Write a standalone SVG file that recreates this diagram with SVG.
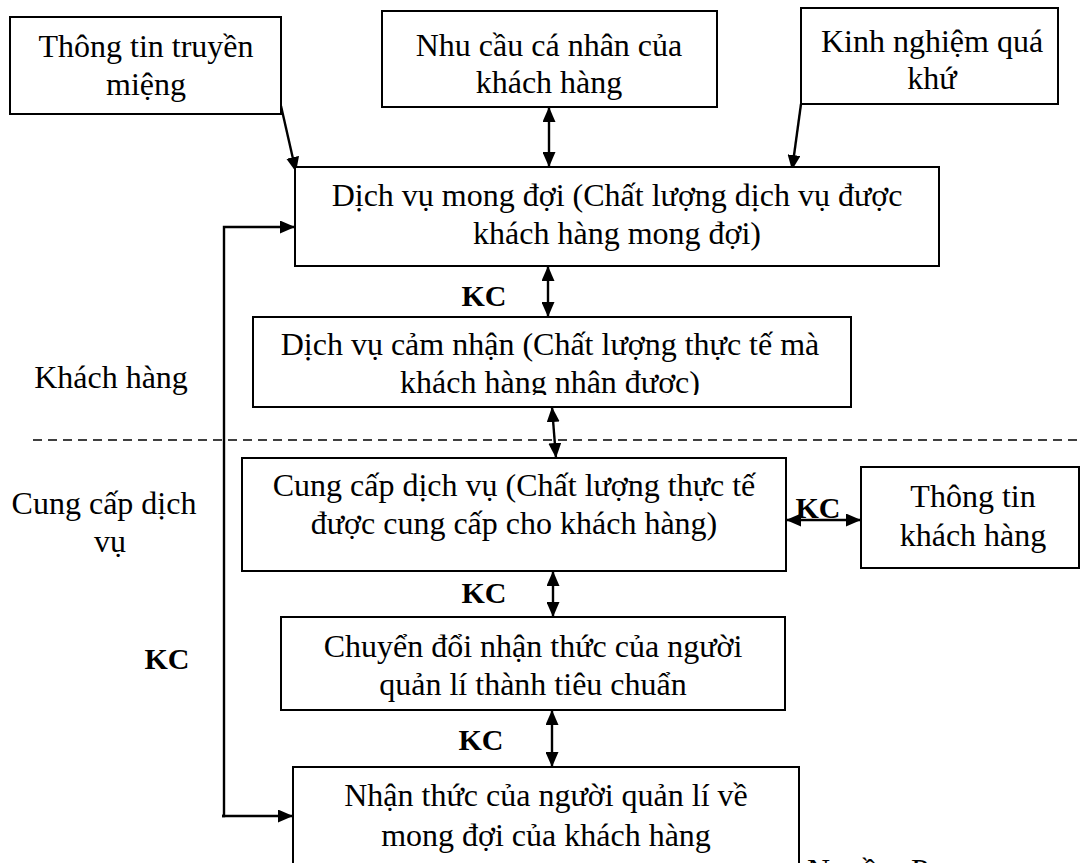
<svg xmlns="http://www.w3.org/2000/svg" width="1082" height="863" viewBox="0 0 1082 863">
  <style>
    .box { fill: #fff; stroke: #000; stroke-width: 2; }
    .t { font-family: "Liberation Serif", "Times New Roman", serif; font-size: 32px; text-anchor: middle; fill: #000; }
    .kc { font-family: "Liberation Serif", "Times New Roman", serif; font-size: 30px; font-weight: bold; text-anchor: middle; fill: #000; }
    .conn { stroke: #000; stroke-width: 2.4; fill: none; }
    .dash { stroke: #000; stroke-width: 1.5; stroke-dasharray: 9 6; fill: none; }
  </style>
  <defs>
    <marker id="head" viewBox="0 0 15 13" refX="15" refY="6.5" markerWidth="15" markerHeight="13" markerUnits="userSpaceOnUse" orient="auto-start-reverse">
      <path d="M0,0 L15,6.5 L0,13 z" fill="#000"/>
    </marker>
    <clipPath id="clipPerceived">
      <rect x="253" y="317" width="598" height="78"/>
    </clipPath>
  </defs>
  <rect width="1082" height="863" fill="#fff"/>

  <!-- boundary between customer side and provider side -->
  <line class="dash" x1="33" y1="440" x2="1082" y2="440"/>

  <!-- side labels -->
  <g id="label-customer">
    <text class="t" x="111" y="388">Khách hàng</text>
  </g>
  <g id="label-provider">
    <text class="t" x="104" y="514">Cung cấp dịch</text>
    <text class="t" x="110" y="552">vụ</text>
  </g>

  <!-- connectors -->
  <g id="connectors">
    <line class="conn" x1="281" y1="106" x2="296" y2="172" marker-end="url(#head)"/>
    <line class="conn" x1="801" y1="104" x2="792" y2="170" marker-end="url(#head)"/>
    <line class="conn" x1="549" y1="107" x2="549" y2="167" marker-start="url(#head)" marker-end="url(#head)"/>
    <line class="conn" x1="548" y1="266" x2="548" y2="317" marker-start="url(#head)" marker-end="url(#head)"/>
    <line class="conn" x1="552" y1="407" x2="556" y2="458" marker-start="url(#head)" marker-end="url(#head)"/>
    <line class="conn" x1="786" y1="520" x2="861" y2="520" marker-start="url(#head)" marker-end="url(#head)"/>
    <line class="conn" x1="553" y1="571" x2="553" y2="617" marker-start="url(#head)" marker-end="url(#head)"/>
    <line class="conn" x1="552" y1="710" x2="552" y2="767" marker-start="url(#head)" marker-end="url(#head)"/>
    <!-- feedback loop on the left -->
    <polyline class="conn" points="222,816 224,816 224,227 295,227" marker-end="url(#head)"/>
    <line class="conn" x1="222" y1="816" x2="293" y2="816" marker-end="url(#head)"/>
    <text class="kc" x="484" y="306">KC</text>
    <text class="kc" x="818" y="518">KC</text>
    <text class="kc" x="484" y="603">KC</text>
    <text class="kc" x="481" y="750">KC</text>
    <text class="kc" x="167" y="669">KC</text>
  </g>

  <g id="word-of-mouth">
    <rect class="box" x="10" y="17" width="271" height="97"/>
    <text class="t" x="146" y="57">Thông tin truyền</text>
    <text class="t" x="146" y="95">miệng</text>
  </g>

  <g id="personal-needs">
    <rect class="box" x="382" y="11" width="335" height="96"/>
    <text class="t" x="549" y="56">Nhu cầu cá nhân của</text>
    <text class="t" x="549" y="93">khách hàng</text>
  </g>

  <g id="past-experience">
    <rect class="box" x="801" y="8" width="257" height="96"/>
    <text class="t" x="932" y="52">Kinh nghiệm quá</text>
    <text class="t" x="932" y="89">khứ</text>
  </g>

  <g id="expected-service">
    <rect class="box" x="295" y="167" width="644" height="99"/>
    <text class="t" x="617" y="206">Dịch vụ mong đợi (Chất lượng dịch vụ được</text>
    <text class="t" x="617" y="244">khách hàng mong đợi)</text>
  </g>

  <g id="perceived-service">
    <rect class="box" x="253" y="317" width="598" height="90"/>
    <g clip-path="url(#clipPerceived)">
      <text class="t" x="550" y="355">Dịch vụ cảm nhận (Chất lượng thực tế mà</text>
      <text class="t" x="550" y="393">khách hàng nhận được)</text>
    </g>
  </g>

  <g id="service-delivery">
    <rect class="box" x="242" y="458" width="544" height="113"/>
    <text class="t" x="514" y="496">Cung cấp dịch vụ (Chất lượng thực tế</text>
    <text class="t" x="514" y="534">được cung cấp cho khách hàng)</text>
  </g>

  <g id="customer-info">
    <rect class="box" x="861" y="467" width="218" height="101"/>
    <text class="t" x="973" y="507">Thông tin</text>
    <text class="t" x="973" y="546">khách hàng</text>
  </g>

  <g id="standards">
    <rect class="box" x="281" y="617" width="504" height="93"/>
    <text class="t" x="533" y="657">Chuyển đổi nhận thức của người</text>
    <text class="t" x="533" y="695">quản lí thành tiêu chuẩn</text>
  </g>

  <g id="management-perception">
    <rect class="box" x="293" y="767" width="506" height="120"/>
    <text class="t" x="546" y="806">Nhận thức của người quản lí về</text>
    <text class="t" x="546" y="846">mong đợi của khách hàng</text>
  </g>

  <!-- source line, running past the bottom edge -->
  <text class="t" x="807" y="881" style="text-anchor:start">Nguồn: P</text>
</svg>
